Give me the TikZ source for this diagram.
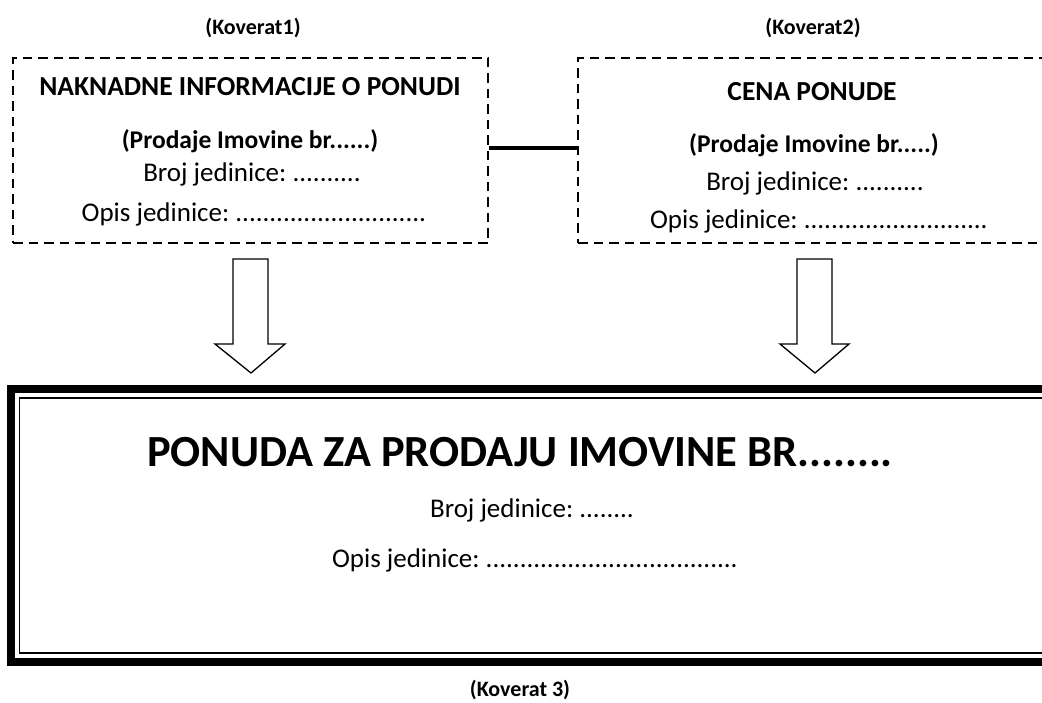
\documentclass[tikz,border=0pt]{standalone}
\usepackage{fontspec}
\setmainfont{Carlito}
\frenchspacing
\begin{document}
\begin{tikzpicture}[x=1pt,y=-1pt,
  env/.style={draw=black,line width=2pt,dash pattern=on 9.5pt off 6pt,inner sep=0pt},
  lbl/.style={font=\fontsize{22}{26}\selectfont\bfseries,anchor=base},
  ttl/.style={font=\fontsize{27.5}{32}\selectfont\bfseries,anchor=base},
  sub/.style={font=\fontsize{25.5}{30}\selectfont\bfseries,anchor=base},
  txt/.style={font=\fontsize{27}{32}\selectfont,anchor=base},
  blockarrow/.style={draw=black,line width=1.3pt,fill=white,line join=miter}]
\useasboundingbox (0,0) rectangle (1042,702);
% envelopes
\node[env,minimum width=475pt,minimum height=185pt] (k1) at (250.5,150.5) {};
\node[env,minimum width=476pt,minimum height=185pt] (k2) at (816,150.5) {};
\draw[line width=4pt] (k1.east |- 0,148) -- (k2.west |- 0,148);
% labels
\node[lbl] (l1) at (253,34) {(Koverat1)};
\node[lbl] (l2) at (813,34) {(Koverat2)};
\node[lbl] (l3) at (520,696) {(Koverat 3)};
% left box text
\node[ttl] (t1) at (250,95) {NAKNADNE INFORMACIJE O PONUDI};
\node[sub] (p1) at (250,148) {(Prodaje Imovine br......)};
\node[txt] (b1) at (252,181) {Broj jedinice: ..........};
\node[txt] (o1) at (254,221) {Opis jedinice: ............................};
% right box text
\node[ttl] (t2) at (812,100) {CENA PONUDE};
\node[sub] (p2) at (814,152) {(Prodaje Imovine br.....)};
\node[txt] (b2) at (815,190) {Broj jedinice: ..........};
\node[txt] (o2) at (819,228) {Opis jedinice: ...........................};
% block arrows
\draw[blockarrow] (233,259) -- (268,259) -- (268,344) -- (285,344) -- (251,373) -- (215,344) -- (233,344) -- cycle;
\draw[blockarrow] (797,259) -- (832,259) -- (832,344) -- (849,344) -- (815,373) -- (780,344) -- (797,344) -- cycle;
% final envelope
\node[draw=black,line width=8pt,minimum width=1045pt,minimum height=272.5pt,inner sep=0pt] (k3) at (533.5,525.25) {};
\draw[line width=1.6pt] (19.5,398) rectangle (1060,653);
\node[font=\fontsize{44.5}{52}\selectfont\bfseries,anchor=base] (t3) at (520,466) {PONUDA ZA PRODAJU IMOVINE BR........};
\node[txt] (b3) at (532,517) {Broj jedinice: ........};
\node[txt] (o3) at (535,567) {Opis jedinice: .....................................};
\end{tikzpicture}
\end{document}
